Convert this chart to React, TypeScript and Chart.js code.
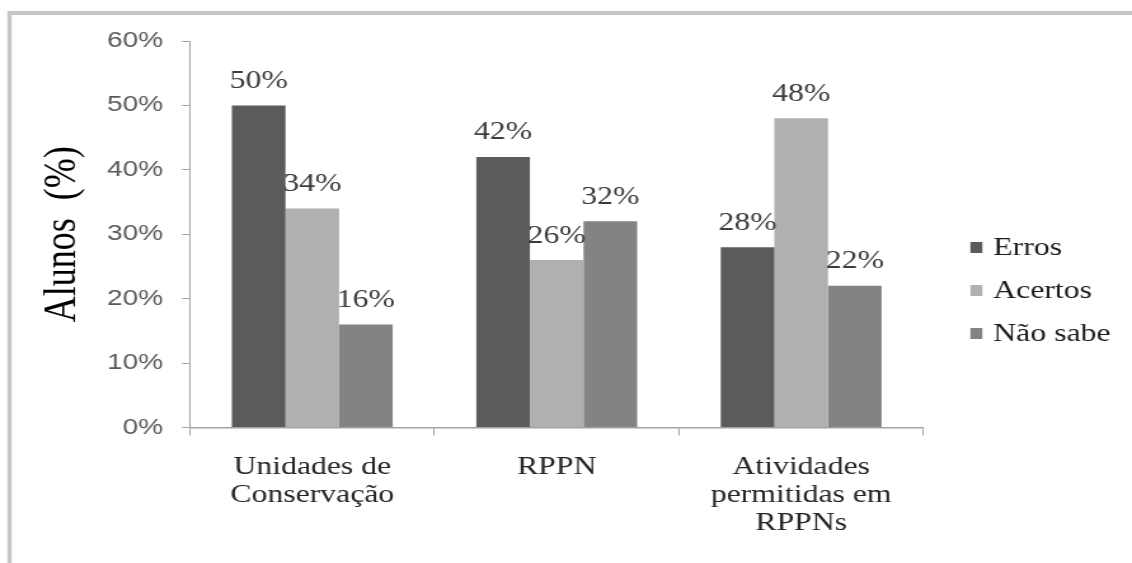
import { useEffect, useRef } from "react";
import { Chart, registerables } from "chart.js";

Chart.register(...registerables);

// ---- data ----
const categories: string[][] = [
  ["Unidades de", "Conservação"],
  ["RPPN"],
  ["Atividades", "permitidas em", "RPPNs"],
];
const seriesNames = ["Erros", "Acertos", "Não sabe"];
const erros = [50, 42, 28];
const acertos = [34, 26, 48];
const naoSabe = [16, 32, 22];
const yTickMin = 0;
const yTickMax = 60;
const yTickStep = 10;

// ---- styling ----
const seriesColors = ["#5b5b5b", "#b0b0b0", "#838383"];
const SERIF = "'Liberation Serif', 'Times New Roman', serif";
const SANS = "'Liberation Sans', Arial, sans-serif";

// drawing surface is laid out narrower and widened on screen
const CANVAS_W = 891;
const CANVAS_H = 563;
const DISPLAY_W = 1132;

const PLOT_LEFT = 149.6;
const PLOT_RIGHT = 726.8;
const PLOT_TOP = 41;
const PLOT_BOTTOM = 427.5;

const framePlugin = {
  id: "frame",
  beforeDraw(chart: Chart) {
    const { ctx, width, height } = chart;
    ctx.save();
    ctx.fillStyle = "#ffffff";
    ctx.fillRect(0, 0, width, height);
    ctx.strokeStyle = "#c6c6c6";
    ctx.lineWidth = 4;
    ctx.beginPath();
    ctx.moveTo(6, 13);
    ctx.lineTo(width, 13);
    ctx.stroke();
    ctx.lineWidth = 3.4;
    ctx.beginPath();
    ctx.moveTo(7.5, 11);
    ctx.lineTo(7.5, height);
    ctx.stroke();
    ctx.restore();
  },
};

const valueLabelPlugin = {
  id: "valueLabels",
  afterDatasetsDraw(chart: Chart) {
    const { ctx } = chart;
    ctx.save();
    ctx.font = `25px ${SERIF}`;
    ctx.fillStyle = "#3c3c3c";
    ctx.textAlign = "center";
    ctx.textBaseline = "alphabetic";
    chart.data.datasets.forEach((ds, i) => {
      const meta = chart.getDatasetMeta(i);
      meta.data.forEach((bar: any, j: number) => {
        const v = ds.data[j] as number;
        ctx.fillText(`${v}%`, bar.x, bar.y - 17.5);
      });
    });
    ctx.restore();
  },
};

const sideLegendPlugin = {
  id: "sideLegend",
  afterDraw(chart: Chart) {
    const { ctx, chartArea } = chart;
    const boxX = chartArea.right + 37;
    const firstBaseline = 255;
    const rowGap = 43;
    ctx.save();
    ctx.font = `25px ${SERIF}`;
    ctx.textAlign = "left";
    ctx.textBaseline = "alphabetic";
    chart.data.datasets.forEach((ds, i) => {
      const baseline = firstBaseline + i * rowGap;
      ctx.fillStyle = ds.backgroundColor as string;
      ctx.fillRect(boxX, baseline - 13, 9.4, 11);
      ctx.fillStyle = "#1c1c1c";
      ctx.fillText(ds.label as string, boxX + 18, baseline);
    });
    ctx.restore();
  },
};

export default function App() {
  const canvasRef = useRef<HTMLCanvasElement | null>(null);

  useEffect(() => {
    const canvas = canvasRef.current;
    if (!canvas) return;
    const seriesValues = [erros, acertos, naoSabe];
    const chart = new Chart(canvas, {
      type: "bar",
      data: {
        labels: categories,
        datasets: seriesNames.map((name, i) => ({
          label: name,
          data: seriesValues[i],
          backgroundColor: seriesColors[i],
          borderWidth: 0,
          categoryPercentage: 0.658,
          barPercentage: 1.0,
        })),
      },
      options: {
        animation: false,
        responsive: false,
        devicePixelRatio: 1,
        events: [],
        layout: {
          padding: {
            top: PLOT_TOP,
            left: 0,
            right: CANVAS_W - PLOT_RIGHT,
            bottom: 0,
          },
        },
        plugins: {
          legend: { display: false },
          tooltip: { enabled: false },
          title: { display: false },
        },
        scales: {
          x: {
            afterFit(scale: any) {
              scale.height = CANVAS_H - PLOT_BOTTOM;
            },
            grid: {
              display: true,
              drawOnChartArea: false,
              drawTicks: true,
              tickLength: 8,
              color: "#a2a2a2",
              offset: true,
            },
            border: { display: true, color: "#a2a2a2", width: 1.5 },
            ticks: {
              autoSkip: false,
              maxRotation: 0,
              minRotation: 0,
              padding: 18,
              color: "#262626",
              font: { family: SERIF, size: 25, lineHeight: 1.12 },
            },
          },
          y: {
            min: yTickMin,
            max: yTickMax,
            afterFit(scale: any) {
              scale.width = PLOT_LEFT;
            },
            grid: {
              display: true,
              drawOnChartArea: false,
              drawTicks: true,
              tickLength: 6.3,
              color: "#a2a2a2",
            },
            border: { display: true, color: "#a2a2a2", width: 1 },
            ticks: {
              stepSize: yTickStep,
              padding: 15,
              color: "#595959",
              font: { family: SANS, size: 22 },
              callback: (v: any) => `${v}%`,
            },
            title: {
              display: true,
              text: "Alunos  (%)",
              color: "#000000",
              padding: { top: 28, bottom: 0 },
              font: { family: SERIF, size: 36, lineHeight: 1.2 },
            },
          },
        },
      },
      plugins: [framePlugin, valueLabelPlugin, sideLegendPlugin],
    });
    return () => chart.destroy();
  }, []);

  return (
    <div
      style={{
        position: "fixed",
        left: 0,
        top: 0,
        width: DISPLAY_W,
        height: CANVAS_H,
        overflow: "hidden",
        background: "#ffffff",
      }}
    >
      <canvas
        ref={canvasRef}
        width={CANVAS_W}
        height={CANVAS_H}
        style={{ width: `${DISPLAY_W}px`, height: `${CANVAS_H}px`, display: "block" }}
      />
    </div>
  );
}
